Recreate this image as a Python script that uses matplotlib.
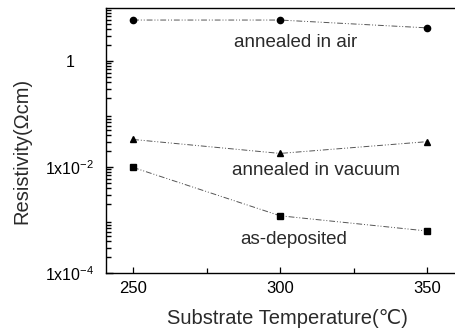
import numpy as np
import matplotlib.pyplot as plt
from matplotlib.ticker import FixedLocator, NullFormatter

plt.rcParams['font.family'] = ['Liberation Sans', 'DejaVu Sans']
plt.rcParams['mathtext.fontset'] = 'custom'
plt.rcParams['mathtext.rm'] = 'Liberation Sans'

temps = [250, 300, 350]
air = [5.9, 5.9, 4.2]
vacuum = [0.033, 0.018, 0.030]
as_dep = [0.0098, 0.0012, 0.00062]
ytick_vals = [1e-4, 1e-2, 1]
ytick_labels = ['1x10$^{-4}$', '1x10$^{-2}$', '1']

fig = plt.figure(figsize=(4.55, 3.36), dpi=100)
ax = fig.add_axes([0.233, 0.1875, 0.767, 0.789])

line_kw = dict(color='#555555', lw=0.7, ls=(0, (6, 2, 1, 2, 1, 2)),
               markerfacecolor='black', markeredgecolor='black')
ax.plot(temps, air, marker='o', ms=4.5, **line_kw)
ax.plot(temps, vacuum, marker='^', ms=5, **line_kw)
ax.plot(temps, as_dep, marker='s', ms=4, **line_kw)

ax.set_yscale('log')
ax.set_ylim(1e-4, 10)
ax.set_xlim(240.8, 359.5)

ax.set_xticks(temps)
ax.xaxis.set_minor_locator(FixedLocator([275, 325]))
ax.set_yticks(ytick_vals)
ax.set_yticklabels(ytick_labels)
minor_y = [m * 10.0 ** e for e in range(-4, 1) for m in range(2, 10)]
ax.yaxis.set_minor_locator(FixedLocator(minor_y))
ax.yaxis.set_minor_formatter(NullFormatter())

ax.tick_params(axis='x', which='both', direction='in', top=False, width=0.9)
ax.tick_params(axis='x', which='major', length=4.5, labelsize=12, pad=6)
ax.tick_params(axis='x', which='minor', length=3.5)
ax.tick_params(axis='y', which='both', direction='in', left=True, right=False,
               width=1.0, color='black')
ax.tick_params(axis='y', which='major', length=5, labelsize=11.5, pad=26)
ax.tick_params(axis='y', which='minor', length=3.5)
for lab in ax.get_yticklabels():
    lab.set_horizontalalignment('center')

for sp in ax.spines.values():
    sp.set_linewidth(1.0)
ax.spines['right'].set_visible(False)

ax.text(305.4, 2.2, 'annealed in air', fontsize=13.5, ha='center', va='center', color='#2a2a2a')
ax.text(312.2, 0.0086, 'annealed in vacuum', fontsize=13.5, ha='center', va='center', color='#2a2a2a')
ax.text(304.8, 0.00042, 'as-deposited', fontsize=13.5, ha='center', va='center', color='#2a2a2a')

ax.set_xlabel('Substrate Temperature(\u2103)', fontsize=14.5, color='#2a2a2a', va='center')
ax.xaxis.set_label_coords(0.52, -0.17)
ax.set_ylabel('Resistivity(\u03a9cm)', fontsize=14.5, color='#2a2a2a', va='center')
ax.yaxis.set_label_coords(-0.242, 0.46)

fig.savefig('out.png', dpi=100)
